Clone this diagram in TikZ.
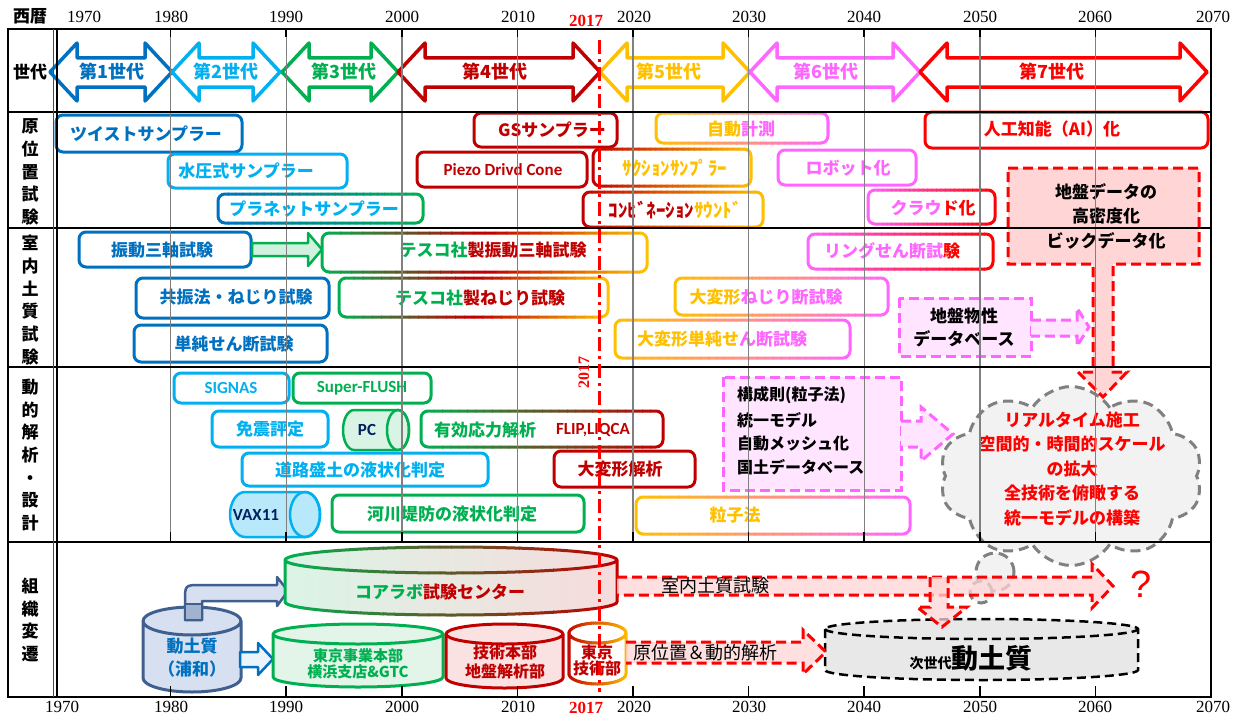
\documentclass[tikz,border=0pt]{standalone}
\usepackage{fontspec}
\setmainfont{Liberation Serif}
\newfontfamily\jp{Noto Sans CJK JP}
\newfontfamily\carl{Carlito}
\newfontfamily\lsans{Liberation Sans}
\usetikzlibrary{shapes.symbols,fit}
\definecolor{cblue}{HTML}{0070C0}
\definecolor{clblue}{HTML}{00B0F0}
\definecolor{cgreen}{HTML}{00B050}
\definecolor{cdred}{HTML}{C00000}
\definecolor{cgold}{HTML}{FFC000}
\definecolor{cpink}{HTML}{FF66FF}
\definecolor{cred}{HTML}{FF0000}
\definecolor{cnavy}{HTML}{002060}
\definecolor{cslate}{HTML}{3F5F8F}
\definecolor{ccyl}{HTML}{D6E0F0}
\definecolor{lpink}{HTML}{FFE5FF}
\definecolor{rpink}{HTML}{FFD5D5}
\definecolor{lgreen}{HTML}{E3F5E9}
\definecolor{lred}{HTML}{FBE2E2}
\newcommand\gstroke[7]{%
  \foreach \i in {0,...,29}{%
    \pgfmathsetmacro\xa{#4-4+(#5-#4+8)*\i/30}%
    \pgfmathsetmacro\xb{\xa+(#5-#4+8)/30+0.8}%
    \ifnum\i<15
      \pgfmathtruncatemacro\pp{round(100*\i/14)}%
      \colorlet{gc}{#2!\pp!#1}%
    \else
      \pgfmathtruncatemacro\pp{round(100*(\i-15)/14)}%
      \colorlet{gc}{#3!\pp!#2}%
    \fi
    \begin{scope}
      \clip (\xa,-5) rectangle (\xb,725);
      \draw[gc, line width=3pt, #6] #7;
    \end{scope}
  }%
}
\newcommand\genarrow[3]{\draw[gen, draw=#3] (#1,72) -- (#1+27,43) -- (#1+27,58) -- (#2-27,58) -- (#2-27,43) -- (#2,72) -- (#2-27,101) -- (#2-27,87) -- (#1+27,87) -- (#1+27,101) -- cycle;}
\newcommand\rb[6]{\node[rbox, draw=#6, fit={(#2,#3) (#4,#5)}] (#1) {};}
\newcommand\gb[8]{\fill[white, rounded corners=7pt] (#5,#6) rectangle (#7,#8);
  \gstroke{#2}{#3}{#4}{#5}{#7}{rounded corners=7pt}{(#5,#6) rectangle (#7,#8)}%
  \node[fit={(#5,#6) (#7,#8)}, inner sep=0pt] (#1) {};}
\tikzset{
 rbox/.style={line width=3pt, rounded corners=7pt, fill=white, inner sep=0pt},
 jt/.style={font=\jp\bfseries\fontsize{17}{20}\selectfont, inner sep=0pt},
 gt/.style={font=\jp\bfseries\fontsize{18}{20}\selectfont, inner sep=0pt},
 lt/.style={font=\carl\bfseries\fontsize{17}{20}\selectfont, inner sep=0pt},
 kt/.style={font=\jp\bfseries\fontsize{16}{20}\selectfont, inner sep=0pt, text=black},
 gen/.style={line width=3.5pt, fill=white, line join=round},
 gridl/.style={draw=gray, line width=1.4pt},
 tickl/.style={draw=black, line width=1.6pt},
 rdash/.style={draw=cred, line width=3pt, dash pattern=on 10pt off 5pt, fill=rpink},
 pdash/.style={draw=cpink, line width=3pt, dash pattern=on 10pt off 5pt, fill=lpink},
 yr/.style={font=\fontsize{17}{17}\selectfont, inner sep=0pt},
 side/.style={font=\jp\bfseries\fontsize{17}{22.7}\selectfont, align=center, inner sep=0pt},
 cyl/.style={line width=3pt, line join=round},
 cloudst/.style={draw=gray, line width=3pt, dash pattern=on 10pt off 6pt, fill=gray!10},
}
\begin{document}
\begin{tikzpicture}[x=1pt,y=-1pt]
\fill[white] (0,0) rectangle (1239,717);
\useasboundingbox (0,0) rectangle (1239,717);

% ---------- generations ----------
\genarrow{50}{172}{cblue}
\genarrow{172}{280}{clblue}
\genarrow{282}{398}{cgreen}
\genarrow{398}{600}{cdred}
\genarrow{600}{750}{cgold}
\genarrow{750}{920}{cpink}
\genarrow{920}{1207}{cred}
\node[gt, text=cblue] (g1) at (112,72) {第1世代};
\node[gt, text=clblue] (g2) at (226,72) {第2世代};
\node[gt, text=cgreen] (g3) at (344,72) {第3世代};
\node[gt, text=cdred] (g4) at (495,72) {第4世代};
\node[gt, text=cgold] (g5) at (669,72) {第5世代};
\node[gt, text=cpink] (g6) at (826,72) {第6世代};
\node[gt, text=cred] (g7) at (1052,72) {第7世代};

% ---------- in-situ tests ----------
\rb{b1}{56}{115}{242}{152}{cblue}
\node[jt, text=cblue] (t1) at (146,134) {ツイストサンプラー};
\rb{b2}{168}{154}{347}{188}{clblue}
\node[jt, text=clblue] (t2) at (246,171) {水圧式サンプラー};
\gb{b3}{cblue}{cblue!50!cgreen}{cgreen}{218}{194}{423}{223}
\node[jt, text=clblue] (t3) at (314,209) {プラネットサンプラー};
\rb{b4}{474}{113}{617}{147}{cdred}
\node[jt, text=cdred] (t4) at (552,130) {GSサンプラー};
\rb{b5}{417}{152}{587}{187}{cdred}
\node[lt, text=cdred] (t5) at (503,170) {Piezo Drivd Cone};
\gb{b6}{cdred}{cdred!50!cgold}{cgold}{593}{149}{751}{186}
\node[jt, font=\jp\bfseries\fontsize{19}{20}\selectfont, text=cgold] (t6) at (675,168) {ｻｸｼｮﾝｻﾝﾌﾟﾗｰ};
\gb{b7}{cdred}{cdred!50!cgold}{cgold}{583}{192}{763}{227}
\node[jt, font=\jp\bfseries\fontsize{19}{20}\selectfont] (t7) at (675,210) {\color{cdred}ｺﾝﾋﾞﾈｰｼｮﾝ\color{cgold}ｻｳﾝﾄﾞ};
\gb{b8}{cgold}{cgold!50!cpink}{cpink}{656}{113}{828}{143}
\node[jt] (t8) at (741,129) {\color{cgold}自動\color{cpink}計測};
\rb{b9}{778}{150}{916}{185}{cpink}
\node[jt, text=cpink] (t9) at (848,168) {ロボット化};
\gb{b10}{cpink}{cpink!50!cred}{cred}{868}{190}{995}{224}
\node[jt] (t10) at (933,208) {\color{cpink}クラウ\color{cred}ド化};
\rb{b11}{925}{112}{1208}{148}{cred}
\node[jt, text=cred] (t11) at (1052,129) {人工知能（AI）化};

% ---------- laboratory tests ----------
\rb{c1}{79}{232}{251}{267}{cblue}
\node[jt, text=cblue] (tc1) at (162,250) {振動三軸試験};
\draw[line width=2.5pt, draw=cgreen, fill=cgreen!18, line join=round] (252,243) -- (308,243) -- (308,233) -- (322,249.5) -- (308,266) -- (308,256) -- (252,256) -- cycle;
\gb{c3}{cgreen}{cdred}{cgold}{322}{233}{647}{272}
\node[jt] (tc3) at (493,250) {\color{cgreen}テスコ社\color{cdred}製振動三軸試験};
\rb{c4}{136}{278}{329}{318}{cblue}
\node[jt, text=cblue] (tc4) at (236,297) {共振法・ねじり試験};
\gb{c5}{cgreen}{cdred}{cgold}{339}{278}{608}{317}
\node[jt] (tc5) at (480,298) {\color{cgreen}テスコ社\color{cdred}製ねじり試験};
\rb{c6}{134}{325}{327}{362}{cblue}
\node[jt, text=cblue] (tc6) at (234,344) {単純せん断試験};
\gb{c7}{cgold}{cgold!50!cpink}{cpink}{675}{278}{888}{315}
\node[jt] (tc7) at (766,297) {\color{cgold}大変形\color{cpink}ねじり断試験};
\gb{c8}{cgold}{cgold!50!cpink}{cpink}{615}{320}{850}{358}
\node[jt] (tc8) at (722,339) {\color{cgold}大変形単純せ\color{cpink}ん断試験};
\gb{c9}{cpink}{cpink!50!cred}{cred}{808}{234}{993}{269}
\node[jt] (tc9) at (892,251) {\color{cpink}リングせん断試\color{cred}験};
\draw[pdash] (899,298) rectangle (1031,356);
\node[kt, font=\jp\bfseries\fontsize{17}{23}\selectfont, align=center] (tc10) at (964,327) {地盤物性\\データベース};
\draw[pdash] (1031,320) -- (1077,320) -- (1077,308) -- (1089,327) -- (1077,346) -- (1077,336) -- (1031,336);

% ---------- dynamic analysis ----------
\rb{d1}{174}{373}{289}{403}{clblue}
\node[lt, text=clblue] (td1) at (231,388) {SIGNAS};
\rb{d2}{293}{373}{431}{403}{cgreen}
\node[lt, text=cgreen] (td2) at (362,388) {Super-FLUSH};
\rb{d3}{212}{411}{328}{447}{clblue}
\node[jt, text=clblue] (td3) at (270,429) {免震評定};
\filldraw[cyl, draw=cgreen, fill=cgreen!15, line width=2.5pt] (398,410) -- (354,410) arc[start angle=90,end angle=270,x radius=11pt,y radius=20pt] -- (398,450) arc[start angle=270,end angle=450,x radius=11pt,y radius=20pt] -- cycle;
\draw[cgreen, line width=2.5pt] (398,430) ellipse[x radius=11pt, y radius=20pt];
\node[lt, text=cnavy] (td4) at (367,430) {PC};
\gb{d5}{cgreen}{cgreen!50!cdred}{cdred}{421}{411}{663}{447}
\node[jt, text=cgreen] (td5a) at (485,430) {有効応力解析};
\node[lt, text=cdred] (td5b) at (593,430) {FLIP,LIQCA};
\rb{d6}{242}{453}{488}{486}{clblue}
\node[jt, text=clblue] (td6) at (360,470) {道路盛土の液状化判定};
\rb{d7}{554}{451}{695}{487}{cdred}
\node[jt, text=cdred] (td7) at (620,469) {大変形解析};
\filldraw[cyl, draw=clblue, fill=clblue!28, line width=2.5pt] (305,492) -- (245,492) arc[start angle=90,end angle=270,x radius=15pt,y radius=22.5pt] -- (305,537) arc[start angle=270,end angle=450,x radius=15pt,y radius=22.5pt] -- cycle;
\draw[clblue, line width=2.5pt] (305,514.5) ellipse[x radius=15pt, y radius=22.5pt];
\node[lt, text=cnavy] (td8) at (256,515) {VAX11};
\rb{d9}{332}{495}{584}{532}{cgreen}
\node[jt, text=cgreen] (td9) at (452,514) {河川堤防の液状化判定};
\gb{d10}{cgold}{cgold!50!cpink}{cpink}{636}{497}{910}{534}
\node[jt, text=cgold] (td10) at (735,515) {粒子法};
\draw[pdash] (723,377) rectangle (901,490);
\node[kt, anchor=west] (td11a) at (737,395) {構成則(粒子法)};
\node[kt, anchor=west] (td11b) at (737,420) {統一モデル};
\node[kt, anchor=west] (td11c) at (737,443) {自動メッシュ化};
\node[kt, anchor=west] (td11d) at (737,467) {国土データベース};
\draw[pdash] (901,421) -- (921,421) -- (921,407) -- (953,434) -- (921,461) -- (921,447) -- (901,447);

% cloud
\filldraw[cloudst] (995,572) circle[radius=19pt];
\filldraw[cloudst] (981,592) circle[radius=11pt];
\node[cloud, cloud puffs=10, cloud puff arc=115, cloud ignores aspect, minimum width=263pt, minimum height=179pt, cloudst] (cl) at (1071,476) {};
\node[jt, text=cred, align=center, font=\jp\bfseries\fontsize{17}{24.5}\selectfont] (tcl) at (1072,469) {リアルタイム施工\\空間的・時間的スケール\\の拡大\\全技術を俯瞰する\\統一モデルの構築};

% big-data callout with its arrow into the cloud
\draw[rdash] (1008,168) -- (1199,168) -- (1199,264) -- (1113,264) -- (1113,372) -- (1127,372) -- (1103,397) -- (1078,372) -- (1093,372) -- (1093,264) -- (1008,264) -- cycle;
\node[kt, font=\jp\bfseries\fontsize{17}{24.5}\selectfont, align=center] (t12) at (1106,216) {地盤データの\\高密度化\\ビックデータ化};

% ---------- organisation ----------
\fill[ccyl] (143,621) -- (143,678) arc[start angle=180,end angle=360,x radius=49pt,y radius=14pt] -- (241,621) arc[start angle=0,end angle=180,x radius=49pt,y radius=14pt] -- cycle;
\draw[cyl, cslate] (143,621) -- (143,678) arc[start angle=180,end angle=360,x radius=49pt,y radius=14pt] -- (241,621) arc[start angle=0,end angle=180,x radius=49pt,y radius=14pt] -- cycle (143,621) arc[start angle=180,end angle=360,x radius=49pt,y radius=14pt];
\node[jt, text=cblue, align=center, font=\jp\bfseries\fontsize{17}{23}\selectfont] (te1) at (192,658) {動土質\\（浦和）};
\filldraw[draw=cslate, fill=ccyl, line width=2.5pt, line join=round] (185,620) -- (185,601) .. controls (185,585) .. (201,585) -- (277,585) -- (277,577) -- (288,591) -- (277,606) -- (277,601) -- (202,601) -- (202,620) -- cycle;
\filldraw[draw=cslate, fill=cslate!35!ccyl, line width=2.5pt] (185,604) rectangle (202,620);
\filldraw[draw=cblue, fill=cblue!8, line width=2.5pt, line join=round] (240,652) -- (258,652) -- (258,643) -- (273,659) -- (258,675) -- (258,667) -- (240,667) -- cycle;

\shade[left color=cgreen!14, right color=cdred!14] (285,560) -- (285,602) arc[start angle=180,end angle=360,x radius=166pt,y radius=13pt] -- (617,560) arc[start angle=0,end angle=180,x radius=166pt,y radius=13pt] -- cycle;
\gstroke{cgreen}{cgreen!50!cdred}{cdred}{285}{617}{line join=round}{(285,560) -- (285,602) arc[start angle=180,end angle=360,x radius=166pt,y radius=13pt] -- (617,560) arc[start angle=0,end angle=180,x radius=166pt,y radius=13pt] -- cycle (285,560) arc[start angle=180,end angle=360,x radius=166pt,y radius=13pt]}
\node[jt] (te4) at (440,592) {\color{cgreen}コアラボ\color{cdred}試験センター};

\filldraw[cyl, draw=cgreen, fill=lgreen] (273,634) -- (273,677) arc[start angle=180,end angle=360,x radius=85pt,y radius=10pt] -- (443,634) arc[start angle=0,end angle=180,x radius=85pt,y radius=10pt] -- cycle;
\draw[cyl, cgreen] (273,634) arc[start angle=180,end angle=360,x radius=85pt,y radius=10pt];
\node[jt, text=cgreen, align=center, font=\jp\bfseries\fontsize{15}{16}\selectfont] (te5) at (358,664) {東京事業本部\\横浜支店\&GTC};

\filldraw[cyl, draw=cdred, fill=lred] (446,634) -- (446,678) arc[start angle=180,end angle=360,x radius=58.5pt,y radius=10pt] -- (563,634) arc[start angle=0,end angle=180,x radius=58.5pt,y radius=10pt] -- cycle;
\draw[cyl, cdred] (446,634) arc[start angle=180,end angle=360,x radius=58.5pt,y radius=10pt];
\node[jt, text=cdred, align=center, font=\jp\bfseries\fontsize{16}{19}\selectfont] (te6) at (505,662) {技術本部\\地盤解析部};

\fill[white] (569,633) -- (569,674) arc[start angle=180,end angle=360,x radius=28.5pt,y radius=10pt] -- (626,633) arc[start angle=0,end angle=180,x radius=28.5pt,y radius=10pt] -- cycle;
\gstroke{cdred}{cdred!50!cgold}{cgold}{569}{626}{line join=round}{(569,633) -- (569,674) arc[start angle=180,end angle=360,x radius=28.5pt,y radius=10pt] -- (626,633) arc[start angle=0,end angle=180,x radius=28.5pt,y radius=10pt] -- cycle (569,633) arc[start angle=180,end angle=360,x radius=28.5pt,y radius=10pt]}
\node[jt, text=cdred, align=center, font=\jp\bfseries\fontsize{16}{16}\selectfont] (te7) at (597,660) {東京\\技術部};

\filldraw[draw=black, fill=gray!18, line width=2.5pt, dash pattern=on 9pt off 5pt] (825,629) -- (825,670) arc[start angle=180,end angle=360,x radius=156.5pt,y radius=10pt] -- (1138,629) arc[start angle=0,end angle=180,x radius=156.5pt,y radius=10pt] -- cycle;
\draw[black, line width=2.5pt, dash pattern=on 9pt off 5pt] (825,629) arc[start angle=180,end angle=360,x radius=156.5pt,y radius=10pt];
\node[inner sep=0pt, text=black] (te11) at (971,658) {{\jp\bfseries\fontsize{14}{14}\selectfont 次世代}{\jp\bfseries\fontsize{27}{27}\selectfont 動土質}};

\draw[rdash, fill opacity=0.75] (617,577) -- (1092,577) -- (1092,564) -- (1113,586) -- (1092,608) -- (1092,595) -- (617,595);
\draw[rdash, fill opacity=0.75] (930,577) -- (930,607) -- (917,607) -- (942,627) -- (967,607) -- (948,607) -- (948,577);
\node[inner sep=0pt, font=\jp\fontsize{18}{18}\selectfont] (te8) at (715,586) {室内土質試験};
\draw[rdash, fill opacity=0.75] (626,642) -- (803,642) -- (803,630) -- (826,652) -- (803,674) -- (803,663) -- (626,663);
\node[inner sep=0pt, font=\jp\fontsize{18}{18}\selectfont] (te10) at (705,653) {原位置＆動的解析};
\node[inner sep=0pt, text=cred, font=\lsans\fontsize{38}{38}\selectfont] (q) at (1141,584) {?};

% ---------- grid and frame ----------
\foreach \yv in {1980,1990,...,2060}{
  \pgfmathsetmacro\gx{55+11.56*(\yv-1970)}
  \draw[gridl] (\gx,29) -- (\gx,542);
  \draw[tickl] (\gx,29) -- (\gx,37);
  \draw[tickl] (\gx,532) -- (\gx,542);
  \draw[tickl] (\gx,686) -- (\gx,697);
}
\foreach \ry in {112,228,367,542} \draw[line width=2pt] (8,\ry) -- (1211,\ry);
\draw[line width=2.5pt] (8,29) rectangle (1211,697);
\draw[line width=1pt, gray!60!black] (53.5,29) -- (53.5,697);
\draw[line width=2.5pt] (57,29) -- (57,697);

% ---------- labels ----------
\node[side] (h0) at (30,16) {西暦};
\node[side] (s0) at (30,72) {世代};
\node[side] (s1) at (30,172) {原\\位\\置\\試\\験};
\node[side] (s2) at (30,300) {室\\内\\土\\質\\試\\験};
\node[side] (s3) at (30,455) {動\\的\\解\\析\\・\\設\\計};
\node[side] (s4) at (30,620) {組\\織\\変\\遷};
\foreach \yv/\xv [count=\k] in {1970/84,1980/171,1990/286,2000/402,2010/518,2020/634,2030/749,2040/864,2050/980,2060/1095,2070/1213}{
  \node[yr] (yt\k) at (\xv,17) {\yv};}
\foreach \yv/\xv [count=\k] in {1970/62,1980/171,1990/286,2000/402,2010/518,2020/634,2030/749,2040/864,2050/980,2060/1095,2070/1213}{
  \node[yr] (yb\k) at (\xv,707) {\yv};}
\node[yr, text=cred, font=\bfseries\fontsize{17}{17}\selectfont] (yt17) at (586,21) {2017};
\node[yr, text=cred, font=\bfseries\fontsize{17}{17}\selectfont] (yb17) at (586,708) {2017};
\node[yr, text=cred, rotate=90, font=\bfseries\fontsize{16}{16}\selectfont] (ym17) at (584,372) {2017};
\draw[cred, line width=3pt, dash pattern=on 14pt off 5pt on 3pt off 5pt] (599,40) -- (599,692);
\end{tikzpicture}
\end{document}
